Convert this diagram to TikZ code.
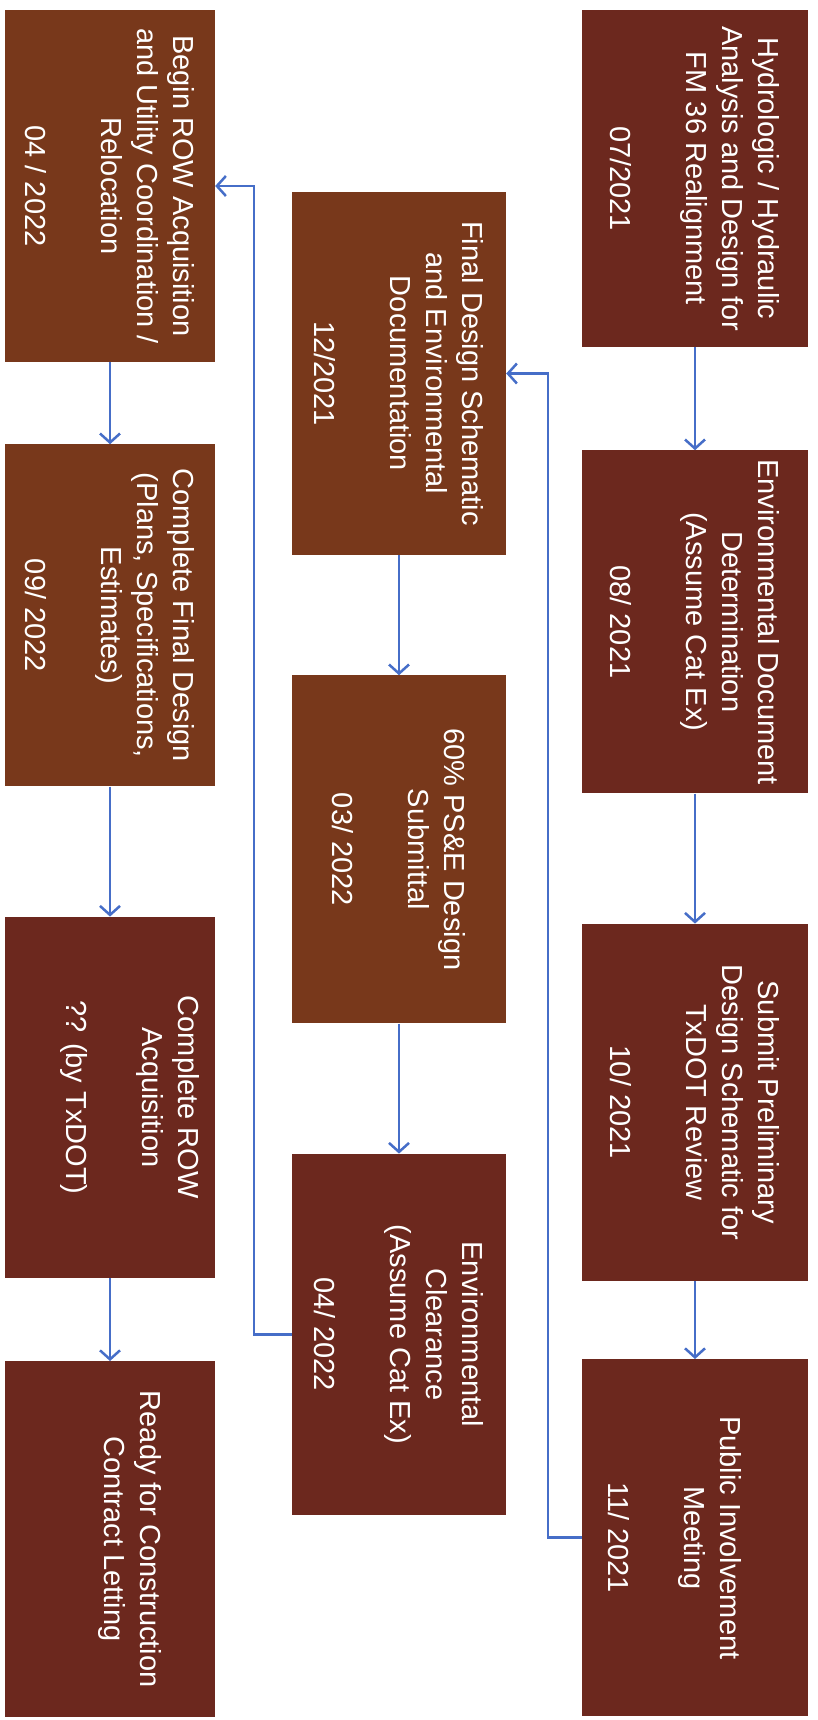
\documentclass[tikz,border=0pt]{standalone}
\usepackage{fontspec}
\setmainfont{Liberation Sans}
\usetikzlibrary{positioning,arrows.meta}
\definecolor{maroonbox}{RGB}{108,40,30}
\definecolor{brownbox}{RGB}{120,56,27}
\definecolor{linkblue}{RGB}{70,110,200}
\begin{document}
\begin{tikzpicture}[x=1pt,y=1pt,
      every node/.style={text=white,align=center,inner sep=0pt,
        font=\fontsize{29}{36}\selectfont},
      toprow/.style={fill=maroonbox,minimum height=226pt},
      midrow/.style={fill=brownbox,minimum height=214pt},
      lowrow/.style={fill=maroonbox,minimum height=210pt},
      flow/.style={draw=linkblue,line width=2.5pt,-{Straight Barb[length=9pt,width=20pt]}}]
  \path[fill=white,use as bounding box] (0,0) rectangle (817,-1720);
  \begin{scope}[rotate=-90,transform shape]
    % first row
    \node[toprow,minimum width=337pt] (hydro) at (178.5,695)
      {Hydrologic / Hydraulic\\Analysis and Design for\\FM 36 Realignment\\[40pt]07/2021};
    \node[toprow,minimum width=343pt] (envdoc) [right=103pt of hydro]
      {Environmental Document\\Determination\\(Assume Cat Ex)\\[40pt]08/ 2021};
    \node[toprow,minimum width=357pt] (submit) [right=130pt of envdoc]
      {Submit Preliminary\\Design Schematic for\\TxDOT Review\\[40pt]10/ 2021};
    \node[toprow,minimum width=357pt] (public) [right=78pt of submit]
      {\strut\\Public Involvement\\Meeting\\[40pt]11/ 2021};
    % second row
    \node[midrow,minimum width=363pt] (findes) at (373.5,399)
      {Final Design Schematic\\and Environmental\\Documentation\\[40pt]12/2021};
    \node[midrow,minimum width=348pt] (pse) [right=120pt of findes]
      {60\% PS\&E Design\\Submittal\\[40pt]03/ 2022};
    \node[midrow,fill=maroonbox,minimum width=361pt] (envclr) [right=130pt of pse]
      {Environmental\\Clearance\\(Assume Cat Ex)\\[40pt]04/ 2022};
    % third row
    \node[lowrow,fill=brownbox,minimum width=352pt] (rowbegin) at (186,110)
      {Begin ROW Acquisition\\and Utility Coordination /\\Relocation\\[40pt]04 / 2022};
    \node[lowrow,fill=brownbox,minimum width=342pt] (findone) [right=82pt of rowbegin]
      {Complete Final Design\\(Plans, Specifications,\\Estimates)\\[40pt]09/ 2022};
    \node[lowrow,minimum width=361pt] (rowdone) [right=130pt of findone]
      {Complete ROW\\Acquisition\\[40pt]?? (by TxDOT)\\\strut};
    \node[lowrow,minimum width=356pt] (ready) [right=83pt of rowdone]
      {\strut\\Ready for Construction\\Contract Letting\\[40pt]\strut};
    % links
    \draw[flow] (hydro) -- (envdoc);
    \draw[flow] (envdoc) -- (submit);
    \draw[flow] (submit) -- (public);
    \draw[flow] (findes) -- (pse);
    \draw[flow] (pse) -- (envclr);
    \draw[flow] (rowbegin) -- (findone);
    \draw[flow] (findone) -- (rowdone);
    \draw[flow] (rowdone) -- (ready);
    \draw[flow] (public.south) -- ++(0,-34pt) -| (findes.north);
    \draw[flow] (envclr.south) -- ++(0,-38pt) -| (rowbegin.north);
  \end{scope}
\end{tikzpicture}
\end{document}
